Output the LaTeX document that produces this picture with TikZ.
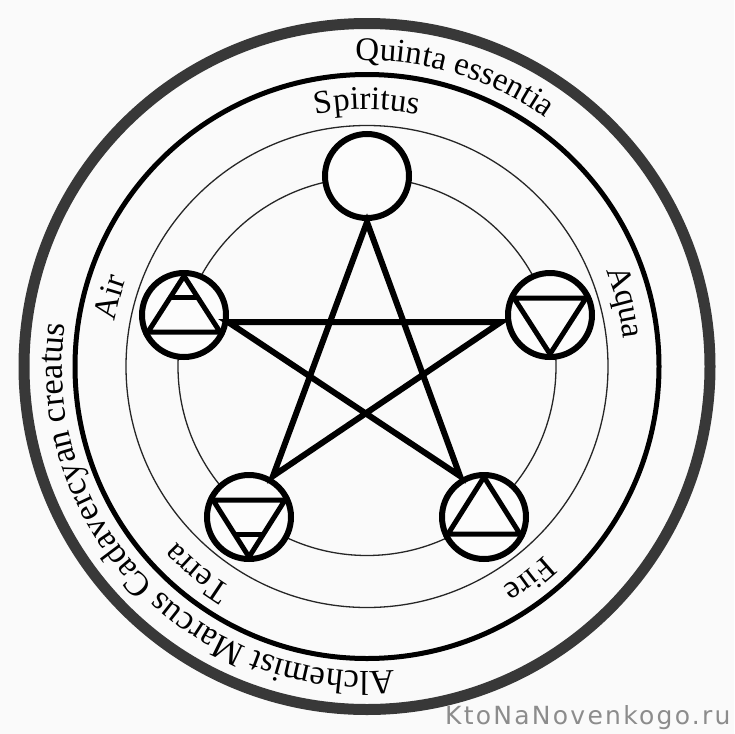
\documentclass[tikz,border=0pt]{standalone}
\usepackage{fontspec}
\setmainfont{Liberation Serif}
\newfontfamily\markfont[LetterSpace=9]{DejaVu Sans}
\usetikzlibrary{decorations.text}
\newcommand{\ringtext}[5]{% mid angle, half span, radius, size, text
  \path[decorate,decoration={text along path,text align=center,text={|\fontsize{#4}{#4}\selectfont|#5}}]
    (core) ++(#1+#2:#3) arc[start angle=#1+#2,end angle=#1-#2,radius=#3];}
\tikzset{
  thin ring/.style={draw=black!85,line width=1.3pt},
  element/.style={circle,draw=black,line width=6pt,fill=black!1,minimum size=84pt,inner sep=0pt},
  star line/.style={draw=black,line width=6pt,miter limit=20,line join=miter},
  glyph/.style={draw=black,line width=5pt,line join=miter},
}
\begin{document}
\begin{tikzpicture}[x=1pt,y=1pt]
\useasboundingbox (0,0) rectangle (734,-734);
\fill[black!2] (0,0) rectangle (734,-734);
\coordinate (core) at (367,-366.5);
\draw[draw=black!78,line width=11pt] (core) circle[radius=343];
\draw[draw=black,line width=5pt] (core) circle[radius=292];
\draw[thin ring] (core) circle[radius=241];
\draw[thin ring] (core) circle[radius=189];
% texts
\ringtext{73.2}{30}{306}{33pt}{Quinta essentia}
\ringtext{90}{20}{257}{33pt}{Spiritus}
\ringtext{165}{12}{256}{33pt}{Air}
\ringtext{14}{14}{258}{33pt}{Aqua}
\ringtext{-52.7}{12}{259}{33pt}{Fire}
\ringtext{-129.5}{18}{259}{33pt}{Terra}
\ringtext{-136.5}{60}{305}{34.5pt}{Alchemist Marcus Cadavercyan creatus}
% elements
\node[element] (spirit) at (367,-176) {};
\node[element] (air) at (184,-315) {};
\node[element] (water) at (550,-315) {};
\node[element] (earth) at (249,-517) {};
\node[element] (fire) at (484,-517) {};
% star
\coordinate (s1) at (367,-222);
\coordinate (s2) at (460,-476);
\coordinate (s3) at (228,-322);
\coordinate (s4) at (501,-322);
\coordinate (s5) at (273,-476);
\draw[star line] (s1) -- (s2) -- (s3) -- (s4) -- (s5) -- cycle;
% glyphs
\draw[glyph] (air.center) ++(0,39) -- ++(-36,-56) -- ++(72,0) -- cycle;
\draw[glyph] (air.center) ++(-13,18) -- ++(26,0);
\draw[glyph] (water.center) ++(0,-39) -- ++(-36,56) -- ++(72,0) -- cycle;
\draw[glyph] (earth.center) ++(0,-40) -- ++(-36,57) -- ++(72,0) -- cycle;
\draw[glyph] (earth.center) ++(-13,-17) -- ++(26,0);
\draw[glyph] (fire.center) ++(0,40) -- ++(-36,-57) -- ++(72,0) -- cycle;
% watermark
\node[text=black!45,font=\markfont\fontsize{25}{25}\selectfont,anchor=west,inner sep=0pt] (mark) at (445,-718) {KtoNaNovenkogo.ru};
\end{tikzpicture}
\end{document}
